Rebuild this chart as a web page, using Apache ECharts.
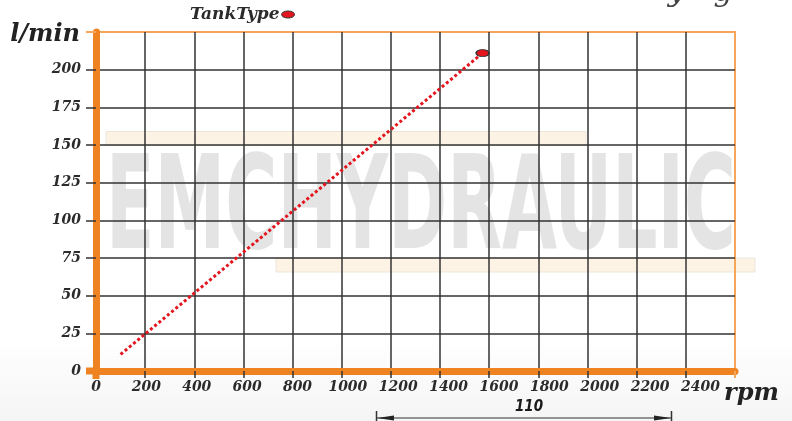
<!DOCTYPE html>
<html>
<head>
<meta charset="utf-8">
<script src="https://cdn.jsdelivr.net/npm/echarts@6/dist/echarts.min.js"></script>
<style>
  html, body { margin: 0; background: #fff; }
  #chart { width: 792px; height: 421px; }
</style>
</head>
<body>
<div id="chart"></div>
<script>
// data
const seriesName = 'TankType'
const rpm = [100, 1573]
const flow = [11, 211]

// axes
const xName = 'rpm'
const yName = 'l/min'
const xStep = 200
const xMax = 2600
const xLabelMax = 2537 // labels in the source drift slightly wider than the grid
const yStep = 25
const yMax = 225

const watermark = 'EMCHYDRAULIC'
const dimText = '110'

const serif = 'DejaVu Serif'
const ink = '#333'
const orange = '#ef8322'
const lightOrange = '#f5a65a'
const red = '#e3161f'

const labelFont = {
  fontFamily: serif,
  fontStyle: 'italic',
  fontWeight: 'bold',
  color: '#2b2b2b',
}

// squeeze the watermark into its box
const wmFont = 'bold 130px "DejaVu Sans Condensed", "DejaVu Sans"'
const ctx = document.createElement('canvas').getContext('2d')
ctx.font = wmFont
const wmScale = 630 / ctx.measureText(watermark).width

const chart = echarts.init(document.getElementById('chart'))

const graphics = [
  {
    id: 'bg',
    type: 'rect',
    z: 0,
    silent: true,
    shape: { x: 0, y: 0, width: 792, height: 421 },
    style: {
      fill: new echarts.graphic.LinearGradient(0, 0, 0, 1, [
        { offset: 0, color: '#ffffff' },
        { offset: 0.8, color: '#ffffff' },
        { offset: 1, color: '#f5f5f5' },
      ]),
    },
  },
  {
    id: 'band1',
    type: 'rect',
    z: 1,
    shape: { x: 106, y: 131.5, width: 480, height: 14 },
    style: { fill: '#fdf3e5', stroke: '#ede5da', lineWidth: 1 },
  },
  {
    id: 'band2',
    type: 'rect',
    z: 1,
    shape: { x: 276, y: 258, width: 479, height: 14 },
    style: { fill: '#fdf3e5', stroke: '#ede5da', lineWidth: 1 },
  },
  {
    id: 'wm',
    type: 'text',
    z: 1,
    x: 106,
    y: 214,
    scaleX: wmScale,
    style: {
      text: watermark,
      font: wmFont,
      fill: '#e4e4e4',
      verticalAlign: 'middle',
    },
  },
  {
    id: 'yName',
    type: 'text',
    z: 6,
    x: 80,
    y: 35,
    style: {
      text: yName,
      font: 'italic bold 24px "DejaVu Serif"',
      fill: '#222',
      align: 'right',
      verticalAlign: 'middle',
    },
  },
  {
    id: 'xName',
    type: 'text',
    z: 6,
    x: 724,
    y: 394,
    style: {
      text: xName,
      font: 'italic bold 24px "DejaVu Serif"',
      fill: '#222',
      align: 'left',
      verticalAlign: 'middle',
    },
  },
  {
    id: 'cutTitle',
    type: 'text',
    z: 6,
    x: 668,
    y: 8,
    style: {
      text: 'y · g',
      font: 'italic 30px "DejaVu Serif"',
      fill: '#444',
      verticalAlign: 'bottom',
    },
  },
  {
    id: 'dimLine',
    type: 'group',
    z: 6,
    children: [
      { type: 'line', shape: { x1: 376, y1: 418, x2: 672, y2: 418 }, style: { stroke: '#333', lineWidth: 1.2 } },
      { type: 'line', shape: { x1: 376.5, y1: 411, x2: 376.5, y2: 421 }, style: { stroke: '#333', lineWidth: 1.5 } },
      { type: 'line', shape: { x1: 671.5, y1: 411, x2: 671.5, y2: 421 }, style: { stroke: '#333', lineWidth: 1.5 } },
      { type: 'polygon', shape: { points: [[377, 418], [394, 415.5], [394, 420.5]] }, style: { fill: '#222' } },
      { type: 'polygon', shape: { points: [[671, 418], [654, 415.5], [654, 420.5]] }, style: { fill: '#222' } },
      {
        type: 'text',
        x: 529,
        y: 407,
        style: {
          text: dimText,
          font: 'italic bold 15px "DejaVu Sans Condensed", "DejaVu Sans"',
          fill: '#1a1a1a',
          align: 'center',
          verticalAlign: 'middle',
        },
      },
    ],
  },
]

const option = {
  animation: false,
  backgroundColor: '#fff',
  grid: {
    left: 96,
    right: 57,
    top: 32,
    bottom: 50,
    show: true,
    z: 3,
    backgroundColor: 'transparent',
    borderColor: lightOrange,
    borderWidth: 2,
  },
  legend: {
    left: 190,
    top: 6,
    padding: 0,
    align: 'right',
    itemWidth: 13,
    itemHeight: 7,
    data: [
      {
        name: seriesName,
        icon: 'path://M0,3.5 A6.5,3.5 0 1,1 13,3.5 A6.5,3.5 0 1,1 0,3.5 Z',
        itemStyle: { color: red, borderColor: ink, borderWidth: 1 },
      },
    ],
    textStyle: { ...labelFont, fontSize: 17, padding: [0, -3, 0, 0] },
  },
  xAxis: [
    {
      type: 'value',
      min: 0,
      max: xMax,
      interval: xStep,
      z: 3,
      axisLine: { lineStyle: { color: orange, width: 7 } },
      axisTick: { length: 7, lineStyle: { color: ink, width: 1.5 } },
      axisLabel: { show: false },
      splitLine: {
        show: true,
        showMinLine: false,
        showMaxLine: false,
        lineStyle: { color: ink, width: 1.5 },
      },
    },
    {
      type: 'value',
      position: 'bottom',
      min: 0,
      max: xLabelMax,
      interval: xStep,
      z: 3,
      axisLine: { show: false },
      axisTick: { show: false },
      splitLine: { show: false },
      axisLabel: {
        ...labelFont,
        fontSize: 14,
        margin: 9,
        formatter: (v) => (v % xStep === 0 ? String(v) : ''),
      },
    },
  ],
  yAxis: {
    type: 'value',
    min: 0,
    max: yMax,
    interval: yStep,
    z: 3,
    axisLine: { show: true, lineStyle: { color: orange, width: 7 } },
    axisTick: { show: true, length: 10, lineStyle: { color: ink, width: 1.5 } },
    axisLabel: {
      ...labelFont,
      fontSize: 14,
      margin: 15,
      formatter: (v) => (v === yMax ? '' : String(v)),
    },
    splitLine: {
      show: true,
      showMinLine: false,
      showMaxLine: false,
      lineStyle: { color: ink, width: 1.5 },
    },
  },
  series: [
    {
      name: seriesName,
      type: 'line',
      z: 4,
      silent: true,
      symbol: 'none',
      data: rpm.map((x, i) => [x, flow[i]]),
      lineStyle: { color: red, width: 3, type: [3, 2.5], cap: 'butt' },
    },
    {
      name: seriesName,
      type: 'scatter',
      z: 5,
      symbol: 'circle',
      symbolSize: [13, 7],
      data: [[rpm[rpm.length - 1], flow[flow.length - 1]]],
      itemStyle: { color: red, borderColor: ink, borderWidth: 1.2, opacity: 1 },
    },
  ],
  graphic: { elements: graphics },
}

chart.setOption(option)

// orange axis stubs that poke past the plot corners
const origin = chart.convertToPixel({ xAxisIndex: 0, yAxisIndex: 0 }, [0, 0])
const corner = chart.convertToPixel({ xAxisIndex: 0, yAxisIndex: 0 }, [xMax, yMax])

chart.setOption({
  graphic: {
    elements: [
      {
        id: 'leftStub',
        type: 'rect',
        z: 5,
        shape: { x: origin[0] - 3.5, y: origin[1], width: 7, height: 8 },
        style: { fill: orange },
      },
      {
        id: 'bottomStub',
        type: 'rect',
        z: 5,
        shape: { x: origin[0] - 10, y: origin[1] - 3.5, width: 10, height: 7 },
        style: { fill: orange },
      },
      {
        id: 'topStub',
        type: 'line',
        z: 5,
        shape: { x1: origin[0] - 10, y1: corner[1], x2: origin[0], y2: corner[1] },
        style: { stroke: lightOrange, lineWidth: 2 },
      },
      {
        id: 'rightStub',
        type: 'line',
        z: 5,
        shape: { x1: corner[0], y1: origin[1], x2: corner[0], y2: origin[1] + 7 },
        style: { stroke: lightOrange, lineWidth: 2 },
      },
    ],
  },
})
</script>
</body>
</html>
